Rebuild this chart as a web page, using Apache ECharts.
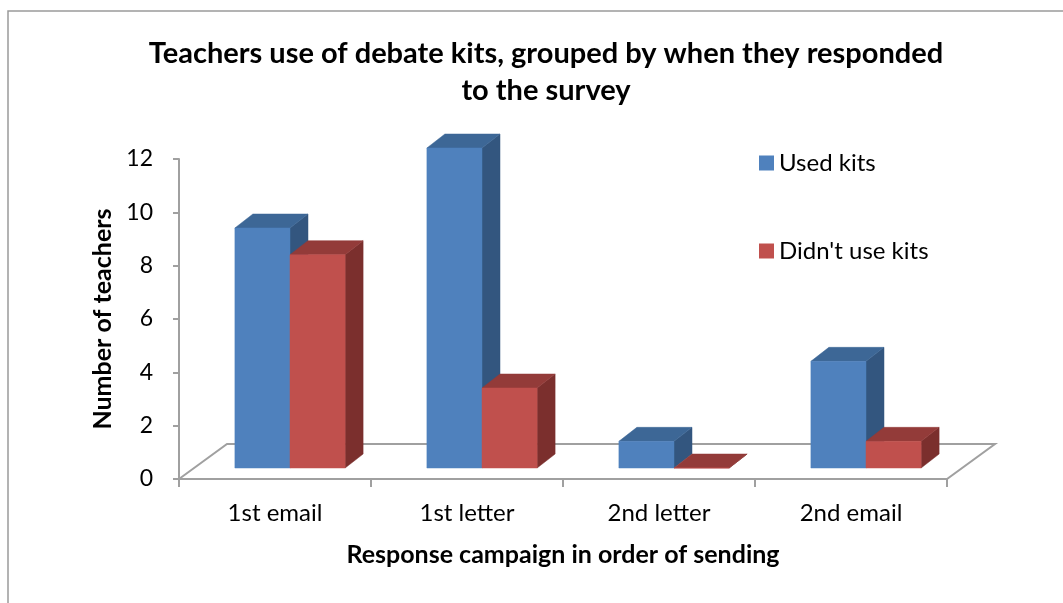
<!DOCTYPE html>
<html><head><meta charset="utf-8">
<script src="https://cdn.jsdelivr.net/npm/echarts@6/dist/echarts.min.js"></script>
<style>html,body{margin:0;padding:0;background:#fff}#c{width:1063px;height:603px}</style>
</head><body><div id="c"></div>
<script>
const categories = ['1st email', '1st letter', '2nd letter', '2nd email'];
const usedKits = [9, 12, 1, 4];
const didntUseKits = [8, 3, 0, 1];
const seriesNames = ['Used kits', "Didn't use kits"];
const yMin = 0, yMax = 12, yStep = 2;

const FONT = 'Lato';
const AXIS_GRAY = '#a0a0a0';
const BLUE = { front: '#4f81bd', top: '#3d6796', side: '#33567f' };
const RED = { front: '#c0504d', top: '#933b39', side: '#7b2f2d' };
// depth geometry (pixels)
const FACE_DX = 15, FACE_DY = -11, BAR_DX = 18, BAR_DY = -14, FLOOR_DX = 48, FLOOR_DY = -35;

function barRenderer(side, col) {
  return function (params, api) {
    const idx = api.value(0), val = api.value(1);
    const top = api.coord([idx, val]);
    const base = api.coord([idx, 0]);
    const band = api.size([1, 0])[0];
    const w = band * 0.287;
    const x0 = top[0] + FACE_DX + (side === 0 ? -w : 0);
    const x1 = x0 + w;
    const yb = base[1] + FACE_DY;
    const yt = top[1] + FACE_DY;
    return {
      type: 'group',
      children: [
        { type: 'polygon', shape: { points: [[x1, yt], [x1 + BAR_DX, yt + BAR_DY], [x1 + BAR_DX, yb + BAR_DY], [x1, yb]] },
          style: { fill: col.side, stroke: col.side, lineWidth: 0.5 } },
        { type: 'polygon', shape: { points: [[x0, yt], [x1, yt], [x1 + BAR_DX, yt + BAR_DY], [x0 + BAR_DX, yt + BAR_DY]] },
          style: { fill: col.top, stroke: col.top, lineWidth: 0.5 } },
        { type: 'rect', shape: { x: x0, y: yt, width: w, height: yb - yt },
          style: { fill: col.front, stroke: col.front, lineWidth: 0.5 } }
      ]
    };
  };
}

function floorRenderer(params, api) {
  const cs = params.coordSys;
  const x = cs.x, yb = cs.y + cs.height, w = cs.width;
  return {
    type: 'group',
    children: [
      { type: 'polygon', shape: { points: [[x, yb], [x + FLOOR_DX, yb + FLOOR_DY], [x + w + FLOOR_DX, yb + FLOOR_DY], [x + w, yb]] },
        style: { fill: '#ffffff', stroke: AXIS_GRAY, lineWidth: 2 } }
    ]
  };
}

const chart = echarts.init(document.getElementById('c'), null, { renderer: 'canvas' });
chart.setOption({
  backgroundColor: '#ffffff',
  animation: false,
  textStyle: { fontFamily: FONT },
  graphic: [{
    type: 'rect', shape: { x: 8, y: 11, width: 1200, height: 700 },
    style: { fill: 'none', stroke: '#9a9a9a', lineWidth: 1.5 }, silent: true, z: -10
  }],
  title: {
    text: 'Teachers use of debate kits, grouped by when they responded\nto the survey',
    left: 541, top: 30, textAlign: 'center',
    textStyle: { fontFamily: FONT, fontSize: 29, fontWeight: 'bold', color: '#000', lineHeight: 37 }
  },
  legend: {
    data: seriesNames,
    orient: 'vertical', left: 754, top: 146,
    itemWidth: 15, itemHeight: 15, itemGap: 64,
    icon: 'rect',
    textStyle: { fontFamily: FONT, fontSize: 24, color: '#000' }
  },
  grid: { left: 179, right: 116, top: 159, bottom: 124 },
  xAxis: {
    type: 'category', data: categories,
    name: 'Response campaign in order of sending', nameLocation: 'middle', nameGap: 63,
    nameTextStyle: { fontFamily: FONT, fontSize: 25, fontWeight: 'bold', color: '#000' },
    axisLine: { show: true, lineStyle: { color: AXIS_GRAY, width: 2 } },
    axisTick: { show: true, length: 8, lineStyle: { color: AXIS_GRAY, width: 2 } },
    axisLabel: { margin: 22, fontFamily: FONT, fontSize: 24, color: '#000' }
  },
  yAxis: {
    type: 'value', min: yMin, max: yMax, interval: yStep,
    name: 'Number of teachers', nameLocation: 'middle', nameGap: 62, nameRotate: 90,
    nameTextStyle: { fontFamily: FONT, fontSize: 25, fontWeight: 'bold', color: '#000' },
    axisLine: { show: true, lineStyle: { color: AXIS_GRAY, width: 2 } },
    axisTick: { show: true, length: 6, lineStyle: { color: AXIS_GRAY, width: 2 } },
    axisLabel: { margin: 26, fontFamily: FONT, fontSize: 23, color: '#000' },
    splitLine: { show: false }
  },
  series: [
    { type: 'custom', name: 'floor', renderItem: floorRenderer, data: [[0, 0]], silent: true, z: 1 },
    { type: 'custom', name: seriesNames[0], renderItem: barRenderer(0, BLUE),
      itemStyle: { color: BLUE.front }, data: usedKits.map((v, i) => [i, v]), encode: { x: 0, y: 1 }, z: 2 },
    { type: 'custom', name: seriesNames[1], renderItem: barRenderer(1, RED),
      itemStyle: { color: RED.front }, data: didntUseKits.map((v, i) => [i, v]), encode: { x: 0, y: 1 }, z: 3 }
  ]
});
</script>
</body></html>
